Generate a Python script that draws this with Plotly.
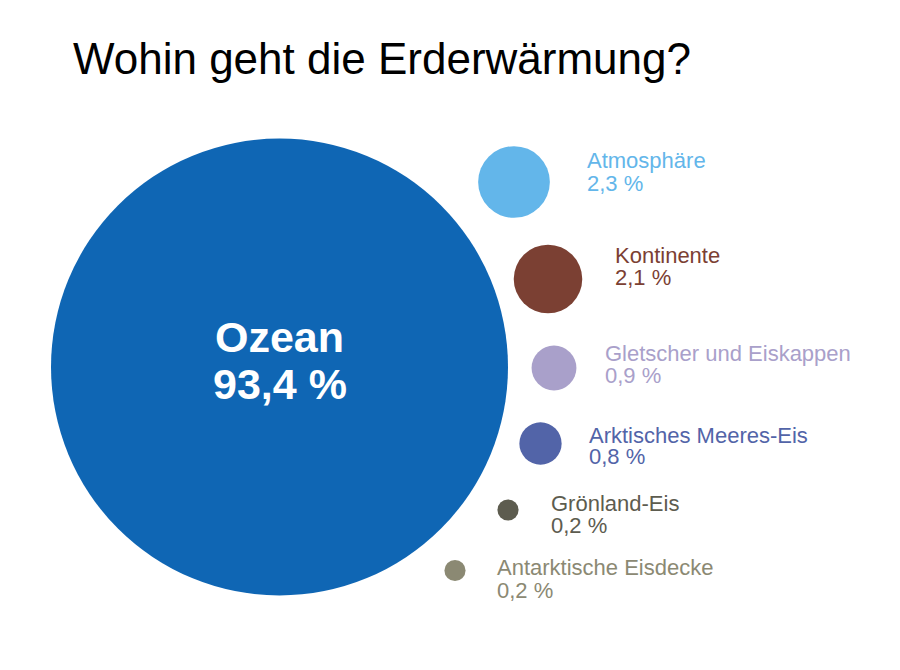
import plotly.graph_objects as go

# Anteile der Erderwärmung (%)
names = ["Ozean", "Atmosphäre", "Kontinente", "Gletscher und Eiskappen",
         "Arktisches Meeres-Eis", "Grönland-Eis", "Antarktische Eisdecke"]
shares = [93.4, 2.3, 2.1, 0.9, 0.8, 0.2, 0.2]
share_labels = ["93,4 %", "2,3 %", "2,1 %", "0,9 %", "0,8 %", "0,2 %", "0,2 %"]
colors = ["#0f66b4", "#63b6ea", "#7b4033", "#a9a0ca", "#5264a8", "#5d5c4f", "#8b8973"]

# layout (pixel coordinates of the page)
cx = [279.5, 514, 548, 554, 540.5, 508, 455]
cy = [367, 182, 279, 368, 443.5, 510, 570.5]
lab_x = [None, 585, 613, 603, 587, 549, 495]
lab_y1 = [None, 159, 254, 352, 434, 502, 566]
lab_y2 = [None, 182.5, 276, 374, 455, 524, 589]

FONT = "Liberation Sans, Arial, sans-serif"
max_diam = 457
OFF = 8  # page body margin

fig = go.Figure()
fig.add_trace(go.Scatter(
    x=cx, y=cy, mode="markers",
    marker=dict(size=shares, sizemode="area", sizeref=2 * max(shares) / max_diam ** 2,
                color=colors, opacity=1, line=dict(width=0)),
    hoverinfo="skip", showlegend=False))

# big circle text
fig.add_annotation(x=cx[0], y=337, text="<b>" + names[0] + "</b>", showarrow=False,
                   font=dict(family=FONT, size=43, color="white"), xanchor="center", yanchor="middle")
fig.add_annotation(x=cx[0], y=384, text="<b>" + share_labels[0] + "</b>", showarrow=False,
                   font=dict(family=FONT, size=43, color="white"), xanchor="center", yanchor="middle")

# side labels
for i in range(1, len(names)):
    fig.add_annotation(x=lab_x[i], y=lab_y1[i] + 1, text=names[i], showarrow=False,
                       font=dict(family=FONT, size=22, color=colors[i]), xanchor="left", yanchor="middle")
    fig.add_annotation(x=lab_x[i], y=lab_y2[i] + 1, text=share_labels[i], showarrow=False,
                       font=dict(family=FONT, size=22, color=colors[i]), xanchor="left", yanchor="middle")

fig.add_annotation(x=71, y=58, text="Wohin geht die Erderwärmung?", showarrow=False,
                   font=dict(family=FONT, size=44, color="black"), xanchor="left", yanchor="middle")

fig.update_xaxes(range=[OFF, 900 + OFF], visible=False, fixedrange=True)
fig.update_yaxes(range=[670 + OFF, OFF], visible=False, fixedrange=True)
fig.update_layout(width=900, height=670, margin=dict(l=0, r=0, t=0, b=0),
                  paper_bgcolor="white", plot_bgcolor="white", showlegend=False)

fig.write_html("out.html")
